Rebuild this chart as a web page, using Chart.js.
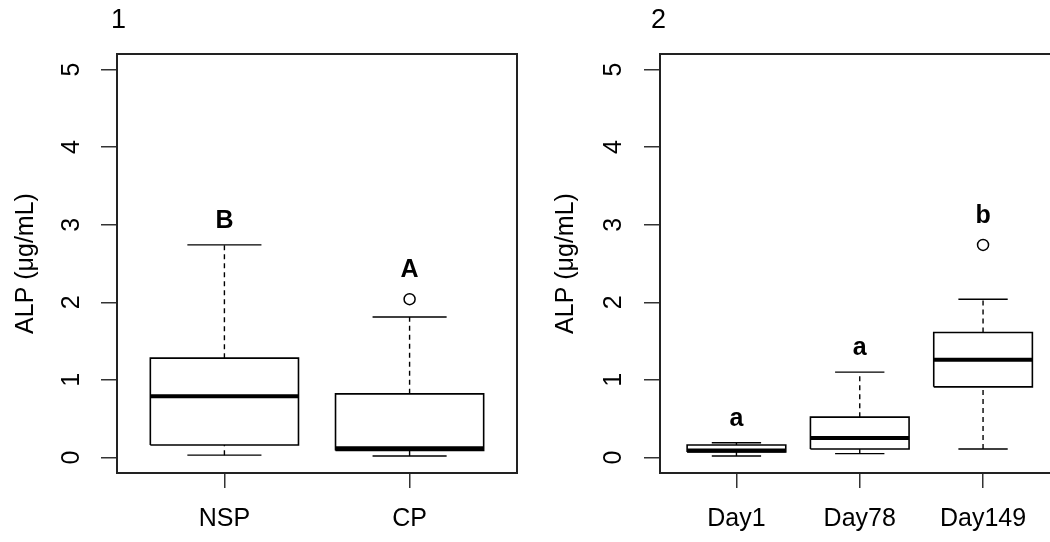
<!DOCTYPE html>
<html>
<head>
<meta charset="utf-8">
<script src="https://cdn.jsdelivr.net/npm/chart.js@4.4.0/dist/chart.umd.min.js"></script>
<style>
    html, body { margin: 0; padding: 0; background: #fff; overflow: hidden; width: 1050px; height: 542px; }
    canvas { position: absolute; top: 0; }
    #panel1 { left: 0; }
    #panel2 { left: 540px; }
</style>
</head>
<body>
<canvas id="panel1" width="540" height="542"></canvas>
<canvas id="panel2" width="570" height="542"></canvas>
<script>
// shared y axis
const yTicks = [0, 1, 2, 3, 4, 5];
const yTitle = 'ALP (\u03bcg/mL)';

// panel 1: NSP vs CP
const groups1 = ['NSP', 'CP'];
const min1 = [0.03, 0.02];
const q1_1 = [0.16, 0.09];
const median1 = [0.79, 0.12];
const q3_1 = [1.28, 0.82];
const max1 = [2.74, 1.81];
const outliers1 = [[], [2.04]];
const letters1 = ['B', 'A'];

// panel 2: sampling days
const groups2 = ['Day1', 'Day78', 'Day149'];
const min2 = [0.02, 0.05, 0.11];
const q1_2 = [0.07, 0.11, 0.91];
const median2 = [0.09, 0.25, 1.26];
const q3_2 = [0.16, 0.52, 1.61];
const max2 = [0.19, 1.10, 2.04];
const outliers2 = [[], [], [2.74]];
const letters2 = ['a', 'a', 'b'];

const FONT = '"Liberation Sans", Arial, Helvetica, sans-serif';
const FONT_SIZE = 25;
const BOX_HALF = 0.4;
const CAP_HALF = 0.2;

// vertical segments lo[i] -> hi[i] at each group, split by gaps
const vSegments = (lo, hi) => lo.flatMap((v, i) => [
    { x: i + 1, y: v }, { x: i + 1, y: hi[i] }, { x: i + 1, y: null }
]);

const hSegments = (vals, half) => vals.flatMap((v, i) => [
    { x: i + 1 - half, y: v }, { x: i + 1 + half, y: v }, { x: i + 1, y: null }
]);

const boxOutlines = (lo, hi) => lo.flatMap((v, i) => [
    { x: i + 1 - BOX_HALF, y: v }, { x: i + 1 + BOX_HALF, y: v },
    { x: i + 1 + BOX_HALF, y: hi[i] }, { x: i + 1 - BOX_HALF, y: hi[i] },
    { x: i + 1 - BOX_HALF, y: v }, { x: i + 1, y: null }
]);

const lineSet = (data, width, dash) => ({
    type: 'line',
    data: data,
    borderColor: '#000',
    borderWidth: width,
    borderDash: dash || [],
    pointRadius: 0,
    fill: false,
    tension: 0,
    spanGaps: false
});

const panelExtras = {
    id: 'panelExtras',
    afterDatasetsDraw(chart, args, opts) {
        const { ctx, chartArea, scales } = chart;
        const x = scales.x, y = scales.y;
        ctx.save();
        ctx.strokeStyle = '#222';
        ctx.lineWidth = 2;
        ctx.strokeRect(chartArea.left, chartArea.top,
            chartArea.right - chartArea.left, chartArea.bottom - chartArea.top);

        ctx.fillStyle = '#000';
        ctx.font = FONT_SIZE + 'px ' + FONT;
        ctx.textAlign = 'center';
        ctx.textBaseline = 'middle';
        // R style: y tick labels parallel to the axis
        yTicks.forEach(v => {
            ctx.save();
            ctx.translate(opts.labelX, y.getPixelForValue(v));
            ctx.rotate(-Math.PI / 2);
            ctx.fillText(String(v), 0, 0);
            ctx.restore();
        });

        ctx.font = '27px ' + FONT;
        ctx.textAlign = 'left';
        ctx.fillText(opts.title, 111, 21);

        ctx.font = 'bold ' + FONT_SIZE + 'px ' + FONT;
        ctx.textAlign = 'center';
        opts.letters.forEach((letter, i) => {
            const outs = opts.outliers[i];
            const top = Math.max(opts.maxs[i], ...outs);
            const py = y.getPixelForValue(top) - (outs.length ? 29 : 24);
            ctx.fillText(letter, x.getPixelForValue(i + 1), py);
        });
        ctx.restore();
    }
};

function makePanel(id, title, groups, mins, q1s, medians, q3s, maxs, outliers, letters, axisWidth, padRight, labelX) {
    const n = groups.length;
    const outlierPoints = outliers.flatMap((list, i) => list.map(v => ({ x: i + 1, y: v })));

    new Chart(document.getElementById(id), {
        type: 'scatter',
        data: {
            datasets: [
                lineSet(vSegments(q3s, maxs), 1.4, [5, 4]),
                lineSet(vSegments(mins, q1s), 1.4, [5, 4]),
                lineSet(hSegments(maxs, CAP_HALF), 1.4),
                lineSet(hSegments(mins, CAP_HALF), 1.4),
                lineSet(boxOutlines(q1s, q3s), 1.6),
                lineSet(hSegments(medians, BOX_HALF), 4),
                {
                    data: outlierPoints,
                    pointStyle: 'circle',
                    pointRadius: 5.5,
                    pointBorderWidth: 1.5,
                    pointBorderColor: '#000',
                    pointBackgroundColor: '#fff',
                    showLine: false
                }
            ]
        },
        options: {
            responsive: false,
            animation: false,
            layout: { padding: { left: 0, top: 54, right: padRight, bottom: 0 } },
            plugins: {
                legend: { display: false },
                tooltip: { enabled: false },
                panelExtras: { title: title, letters: letters, outliers: outliers, maxs: maxs, labelX: labelX }
            },
            scales: {
                x: {
                    type: 'linear',
                    min: 0.5 - 0.04 * n,
                    max: n + 0.5 + 0.04 * n,
                    afterBuildTicks: scale => { scale.ticks = groups.map((g, i) => ({ value: i + 1 })); },
                    afterFit: scale => { scale.height = 69; },
                    border: { display: false },
                    grid: { drawOnChartArea: false, drawTicks: true, tickLength: 15, color: '#333', lineWidth: 1.5 },
                    ticks: {
                        callback: v => groups[Math.round(v) - 1],
                        color: '#000',
                        padding: 16,
                        maxRotation: 0,
                        font: { family: FONT, size: FONT_SIZE }
                    }
                },
                y: {
                    min: -0.2,
                    max: 5.2,
                    afterBuildTicks: scale => { scale.ticks = yTicks.map(v => ({ value: v })); },
                    afterFit: scale => { scale.width = axisWidth; },
                    border: { display: false },
                    grid: { drawOnChartArea: false, drawTicks: true, tickLength: 16, color: '#333', lineWidth: 1.5 },
                    ticks: { display: false },
                    title: {
                        display: true,
                        text: yTitle,
                        color: '#000',
                        padding: { top: 11, bottom: 0 },
                        font: { family: FONT, size: FONT_SIZE }
                    }
                }
            }
        },
        plugins: [panelExtras]
    });
}

makePanel('panel1', '1', groups1, min1, q1_1, median1, q3_1, max1, outliers1, letters1, 117, 23, 72);
makePanel('panel2', '2', groups2, min2, q1_2, median2, q3_2, max2, outliers2, letters2, 120, 50.5, 74);
</script>
</body>
</html>
